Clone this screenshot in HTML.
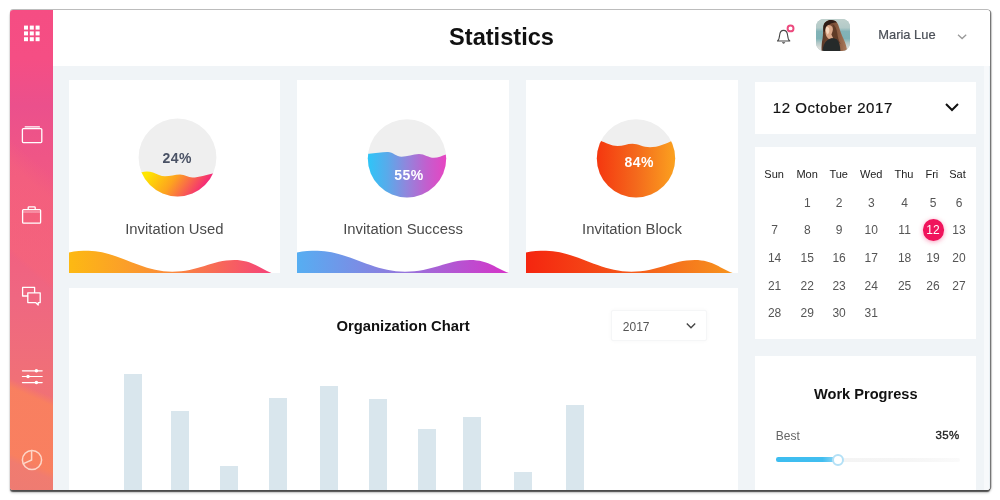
<!DOCTYPE html>
<html lang="en">
<head>
<meta charset="utf-8">
<title>Statistics</title>
<style>
*{box-sizing:border-box;margin:0;padding:0}
html,body{width:1000px;height:500px;overflow:hidden;background:#fff;font-family:"Liberation Sans",sans-serif;color:#222}
.abs{position:absolute}
#win{position:absolute;left:10px;top:10px;width:980px;height:480px;background:#fff;border-radius:3px;
  box-shadow:0 -1px 0 rgba(0,0,0,.26),1.3px 0 .6px rgba(0,0,0,.42),2px 1px 2px rgba(0,0,0,.1),0 1.6px 1px rgba(0,0,0,.6),0 3px 2.5px rgba(0,0,0,.2);overflow:hidden}
#side{position:absolute;left:0;top:0;width:43px;height:480px;
  background:linear-gradient(220.7deg,rgba(246,100,122,0) 0,rgba(246,100,122,0) 32%,rgba(246,100,122,.5) 37%,rgba(246,100,122,.55) 53%,rgba(246,100,122,0) 54.4%,rgba(246,100,122,0) 100%),linear-gradient(204deg,rgba(249,128,95,0) 0,rgba(249,128,95,0) 77.6%,rgba(249,128,95,.95) 79.4%,rgba(249,128,95,.95) 92.6%,rgba(240,124,112,.9) 94.2%,rgba(238,123,114,.9) 100%),linear-gradient(180deg,#f54d83 0%,#f54e84 10%,#eb508c 20%,#ee5488 27%,#f25c80 43%,#ef6781 60%,#f07077 77%,#f17274 85%,#f4776c 93%,#ee7b72 100%)}
#head{position:absolute;left:43px;top:0;width:937px;height:56px;background:#fff}
#content{position:absolute;left:43px;top:56px;width:937px;height:424px;background:linear-gradient(90deg,#f0f4f7 0,#f0f4f7 931px,#f7f9fb 931.5px,#f7f9fb 935.5px,#eaf0f4 936px)}
.card{position:absolute;background:#fff;overflow:hidden}
h1{position:absolute;left:1.5px;width:980px;text-align:center;top:11.8px;font-size:23.6px;line-height:30px;font-weight:700;color:#111;letter-spacing:0}
.lbl{position:absolute;left:0;width:100%;text-align:center;font-size:14.85px;color:#4a4a4a;top:139.9px;line-height:18px}
.pct{position:absolute;left:0;width:100%;text-align:center;font-weight:700;font-size:14px;line-height:16px;letter-spacing:.45px}
.cal{position:absolute;font-size:12px;color:#555;text-align:center;width:30px;line-height:14px}
.cal.h{color:#222;font-size:11px}
#calendar>div{margin-top:.8px}
#work>div{margin-top:.4px}
.bar{margin-left:.4px;position:absolute;width:18px;height:220px;background:#d9e6ed}
</style>
</head>
<body>
<div id="win">
  <div id="head"></div>
  <div id="content"></div>
  <div id="side">
    <svg class="abs" style="left:0;top:0" width="43" height="480" viewBox="10 10 43 480" fill="none" stroke="#fff" stroke-width="1.3" stroke-linejoin="round" stroke-linecap="round">
      <!-- grid -->
      <g fill="#fff" stroke="none">
        <rect x="24.0" y="25.6" width="4" height="4"/><rect x="29.8" y="25.6" width="4" height="4"/><rect x="35.6" y="25.6" width="4" height="4"/>
        <rect x="24.0" y="31.4" width="4" height="4"/><rect x="29.8" y="31.4" width="4" height="4"/><rect x="35.6" y="31.4" width="4" height="4"/>
        <rect x="24.0" y="37.2" width="4" height="4"/><rect x="29.8" y="37.2" width="4" height="4"/><rect x="35.6" y="37.2" width="4" height="4"/>
      </g>
      <!-- window/folder -->
      <rect x="22.4" y="128.6" width="19.4" height="14" rx="1"/>
      <path d="M25.2 126.9 H39.4"/>
      <!-- briefcase -->
      <rect x="22.6" y="209.6" width="18" height="13.6" rx="1"/>
      <path d="M28.2 209.4 V207.6 Q28.2 206.8 29 206.8 H34.4 Q35.2 206.8 35.2 207.6 V209.4"/>
      <path d="M23 212 H40.2" stroke-width=".8" opacity=".7"/>
      <!-- chat -->
      <path d="M27.6 296 H22.6 V287.4 H34.6 V292.4"/>
      <path d="M27.8 292.8 H40.2 V302.6 H38.2 V305 L35.6 302.6 H27.8Z"/>
      <!-- sliders -->
      <path d="M22.4 370.8 H42.2 M22.4 376.5 H42.2 M22.4 382.6 H42.2" stroke-width="1.15"/>
      <g fill="#fff" stroke="none"><circle cx="36.4" cy="370.8" r="1.75"/><circle cx="28" cy="376.5" r="1.75"/><circle cx="36.4" cy="382.6" r="1.75"/></g>
      <!-- pie -->
      <g stroke="#fdd6c8" stroke-width="1.5"><circle cx="32" cy="460" r="9.6"/><path d="M31.6 450.6 V460 L24 463.4"/></g>
    </svg>
  </div>
  <h1>Statistics</h1>
  <!-- header right -->
  <svg class="abs" style="left:764px;top:12px" width="24" height="26" viewBox="774 22 24 26" fill="none">
    <path d="M777.5 41 C779.2 39.7 779.4 37.5 779.6 35.2 C779.9 32.3 781.4 30.4 783.6 30.4 C785.8 30.4 787.3 32.3 787.6 35.2 C787.8 37.5 788 39.7 789.8 41 Z" stroke="#484848" stroke-width="1.1" stroke-linejoin="round"/>
    <path d="M781.8 42.3 Q783.6 45 785.4 42.3 Z" fill="#444"/>
    <circle cx="790.55" cy="28.4" r="2.95" stroke="#ec4a7e" stroke-width="1.95" fill="#fff"/>
  </svg>
  <div class="abs" id="avatar" style="left:806px;top:9.4px;width:33.6px;height:31.6px;border-radius:8px;overflow:hidden;background:#a9c3c3">
    <svg class="abs" style="left:0;top:0" width="33.6" height="31.6" viewBox="0 0 33.6 31.6">
      <defs>
        <linearGradient id="avbg" x1="0" y1="0" x2="0" y2="1"><stop offset="0" stop-color="#c3d2ce"/><stop offset=".3" stop-color="#b3cac8"/><stop offset=".4" stop-color="#82b3b7"/><stop offset=".6" stop-color="#7fb2b6"/><stop offset=".72" stop-color="#b4c9c8"/><stop offset=".85" stop-color="#d8dad7"/><stop offset="1" stop-color="#dedcd8"/></linearGradient>
        <linearGradient id="avhair" x1="0" y1="0" x2="1" y2="0"><stop offset="0" stop-color="#5a3726"/><stop offset=".5" stop-color="#7e5038"/><stop offset="1" stop-color="#ab7b5c"/></linearGradient>
        <filter id="avblur" x="-10%" y="-10%" width="120%" height="120%"><feGaussianBlur stdDeviation=".6"/></filter>
      </defs>
      <rect x="-2" y="-2" width="38" height="36" fill="url(#avbg)"/>
      <g filter="url(#avblur)">
        <path d="M7.6 7 C8 3.5 11.5 1 15.2 1.1 C18.8 1.2 21.3 3 22.3 6 C24 11 25.5 16 27.8 20.5 C29.5 24 30.6 28 31.2 32 L5.6 32 C5.4 27 5.8 23 6.6 19.5 C7.2 15 7 11 7.6 7Z" fill="url(#avhair)"/>
        <path d="M9.4 7 C11.5 5.2 15 5.6 16.4 8 C17.4 10.5 17.2 14 16.2 16.2 L18.4 19 L13 20 C11.5 19 10.2 17.5 9.8 15.5 C9.2 12.5 8.8 9.5 9.4 7Z" fill="#dba98a"/>
        <path d="M9.8 8.6 C10.8 7.6 12.6 7.8 13.2 9.6 C13.7 11.8 13 14.6 11.8 15.4 C10.4 14.8 9.4 11 9.8 8.6Z" fill="#f5d6bd"/>
        <path d="M7.4 7 C8 3.5 11.5 1 15.2 1.1 C17.8 1.2 19.8 2 21 3.6 C18 3.6 15.2 4.2 13.2 5.6 C11 6.4 9.6 8 9.2 10.5 C8.8 12 8.4 13 8 13.6 C7.3 11.5 7.1 9 7.4 7Z" fill="#2f1d17"/>
        <path d="M15.4 15.5 C17 12.5 17.6 8.5 16.4 5 C19.2 6.5 20.6 10 21.2 14 C21.8 18 22.6 21.5 24.6 25 L18 21Z" fill="#603a28"/>
        <path d="M6.6 32 C6.8 27.5 8.4 23.4 11.6 21 C14.6 18.8 18.6 18.6 21.2 20.8 C23.4 22.8 24 27 24.4 32Z" fill="#25292a"/>
      </g>
    </svg>
  </div>
  <div class="abs" style="left:868.3px;top:16.9px;font-size:12.9px;line-height:16px;color:#4a4f57;-webkit-text-stroke:.2px #4a4f57">Maria Lue</div>
  <svg class="abs" style="left:946px;top:23px" width="12" height="8" viewBox="0 0 12 8"><path d="M2 1.7 L6.1 5.5 L10.2 1.7" fill="none" stroke="#999" stroke-width="1.3"/></svg>

  <!-- cards (coordinates relative to #win : page - 10) -->
  <div class="card" id="c1" style="left:58.7px;top:70px;width:211.3px;height:193px">
    <svg class="abs" style="left:0;top:0" width="211" height="193" viewBox="0 0 211 193">
      <defs>
        <linearGradient id="g1" x1="0" y1="0" x2="1" y2="0"><stop offset="0" stop-color="#fdb913"/><stop offset=".5" stop-color="#fa8a3a"/><stop offset="1" stop-color="#f5437a"/></linearGradient>
        <linearGradient id="g1c" gradientUnits="userSpaceOnUse" x1="82" y1="88" x2="128" y2="120"><stop offset="0" stop-color="#ffe600"/><stop offset=".45" stop-color="#fda31f"/><stop offset="1" stop-color="#f4227d"/></linearGradient>
        <clipPath id="cp1"><circle cx="108.5" cy="77.5" r="38.9"/></clipPath>
      </defs>
      <circle cx="108.5" cy="77.5" r="38.9" fill="#efefef"/>
      <path clip-path="url(#cp1)" fill="url(#g1c)" d="M60 93 L72 92.5 C76 91 80 91 84 92.5 C88 94 92 96.3 96 96.3 C101 96.3 106 94.5 111 94.5 C116 94.5 119 97.5 123.5 97.5 C130 97.5 137 95 146 93 L150 92.5 L150 130 L60 130Z"/>
      <path fill="url(#g1)" transform="scale(.955 1)" d="M0 172.5 C7 171 13 170.75 20.5 170.75 C50 170.75 75 191.75 108 191.75 C135 191.75 150 180 173 180 C192 180 200 189 212 193 L0 193Z"/>
    </svg>
    <div class="pct" style="top:70px;left:2.9px;color:#4a5265">24%</div>
    <div class="lbl">Invitation Used</div>
  </div>

  <div class="card" id="c2" style="left:287px;top:70px;width:212px;height:193px">
    <svg class="abs" style="left:0;top:0" width="212" height="193" viewBox="0 0 212 193">
      <defs>
        <linearGradient id="g2" x1="0" y1="0" x2="1" y2="0"><stop offset="0" stop-color="#56aef2"/><stop offset=".5" stop-color="#9476dc"/><stop offset="1" stop-color="#d633c8"/></linearGradient>
        <linearGradient id="g2c" gradientUnits="userSpaceOnUse" x1="71" y1="0" x2="149" y2="0"><stop offset="0" stop-color="#2ec5f8"/><stop offset=".25" stop-color="#5aaaea"/><stop offset=".5" stop-color="#9285dc"/><stop offset=".75" stop-color="#c25fce"/><stop offset="1" stop-color="#e745c2"/></linearGradient>
        <clipPath id="cp2"><circle cx="110" cy="78.4" r="39.2"/></clipPath>
      </defs>
      <circle cx="110" cy="78.4" r="39.2" fill="#efefef"/>
      <path clip-path="url(#cp2)" fill="url(#g2c)" d="M60 74 L72 73.8 C78 73.6 86 71.9 91 72.1 C96 72.3 99.5 76.8 104.5 76.8 C110 76.8 116 74 122 74 C127.5 74 131.5 77.8 137 77.8 C141 77.8 145 76 149 74.6 L156 73 V130 H60Z"/>
      <path fill="url(#g2)" d="M0 172.5 C7 171 13 170.75 20.5 170.75 C50 170.75 75 191.75 108 191.75 C135 191.75 150 180 173 180 C192 180 200 189 212 193 L0 193Z"/>
    </svg>
    <div class="pct" style="top:86.8px;left:6px;color:#fff">55%</div>
    <div class="lbl">Invitation Success</div>
  </div>

  <div class="card" id="c3" style="left:516px;top:70px;width:212px;height:193px">
    <svg class="abs" style="left:0;top:0" width="212" height="193" viewBox="0 0 212 193">
      <defs>
        <linearGradient id="g3" x1="0" y1="0" x2="1" y2="0"><stop offset="0" stop-color="#f5250f"/><stop offset=".5" stop-color="#f4581a"/><stop offset="1" stop-color="#f7941e"/></linearGradient>
        <linearGradient id="g3c" gradientUnits="userSpaceOnUse" x1="71" y1="0" x2="149" y2="0"><stop offset="0" stop-color="#f5370f"/><stop offset=".5" stop-color="#f4691c"/><stop offset="1" stop-color="#fba11f"/></linearGradient>
        <clipPath id="cp3"><circle cx="110" cy="78.4" r="39.2"/></clipPath>
      </defs>
      <circle cx="110" cy="78.4" r="39.2" fill="#efefef"/>
      <g clip-path="url(#cp3)"><path fill="url(#g3c)" transform="translate(0 -.8)" d="M60 56 L74 61.25 C80 63.5 85 66.75 91.5 66.75 C97 66.75 101 64.5 106.5 64.5 C112 64.5 117 68 124 68 C132 68 140 64.5 146.5 61.25 L156 56 V132 H60Z"/></g>
      <path fill="url(#g3)" transform="scale(.975 1)" d="M0 172.5 C7 171 13 170.75 20.5 170.75 C50 170.75 75 191.75 108 191.75 C135 191.75 150 180 173 180 C192 180 200 189 212 193 L0 193Z"/>
    </svg>
    <div class="pct" style="top:73.8px;left:7.2px;color:#fff">84%</div>
    <div class="lbl">Invitation Block</div>
  </div>

  <!-- chart -->
  <div class="card" id="chart" style="left:58.6px;top:278px;width:669.4px;height:202px">
    <div class="abs" style="left:0;width:669px;top:29.6px;text-align:center;font-weight:700;font-size:14.8px;line-height:16px;color:#111">Organization Chart</div>
    <div class="abs" style="left:542.6px;top:22.4px;width:95.6px;height:30.8px;border:1px solid #f5f6f7;border-radius:2px;background:#fff;box-shadow:0 0 4px rgba(0,0,0,.035)"></div>
    <div class="abs" style="left:554.2px;top:32.2px;font-size:12px;line-height:14px;color:#555">2017</div>
    <svg class="abs" style="left:616px;top:34px" width="12" height="8" viewBox="0 0 12 8"><path d="M1.8 1.6 L6 5.8 L10.2 1.6" fill="none" stroke="#444" stroke-width="1.35"/></svg>
    <div class="bar" style="left:54.75px;top:86.25px"></div>
    <div class="bar" style="left:102.25px;top:123.25px"></div>
    <div class="bar" style="left:151.50px;top:178.25px"></div>
    <div class="bar" style="left:200.50px;top:110.25px"></div>
    <div class="bar" style="left:251.50px;top:98.00px"></div>
    <div class="bar" style="left:300.25px;top:110.50px"></div>
    <div class="bar" style="left:349.00px;top:141.25px"></div>
    <div class="bar" style="left:394.25px;top:129.25px"></div>
    <div class="bar" style="left:445.25px;top:184.25px"></div>
    <div class="bar" style="left:497.00px;top:117.00px"></div>
  </div>

  <!-- right column -->
  <div class="card" id="date" style="left:744.8px;top:71.6px;width:221.7px;height:52px">
    <div class="abs" style="left:18px;top:17.4px;font-size:15px;line-height:18px;color:#111;letter-spacing:.55px;-webkit-text-stroke:.2px #111">12 October 2017</div>
    <svg class="abs" style="left:189px;top:20.4px" width="16" height="10" viewBox="0 0 16 10"><path d="M2 2 L8 8 L14 2" fill="none" stroke="#111" stroke-width="2"/></svg>
  </div>
  <div class="card" id="calendar" style="left:744.8px;top:136.5px;width:221.7px;height:192.5px">
<div class="cal h" style="left:4.30px;top:20.20px">Sun</div><div class="cal h" style="left:37.30px;top:20.20px">Mon</div><div class="cal h" style="left:68.90px;top:20.20px">Tue</div><div class="cal h" style="left:101.40px;top:20.20px">Wed</div><div class="cal h" style="left:134.20px;top:20.20px">Thu</div><div class="cal h" style="left:162.10px;top:20.20px">Fri</div><div class="cal h" style="left:187.70px;top:20.20px">Sat</div>
<div class="abs" style="left:167.80px;top:71.90px;width:21.6px;height:21.6px;border-radius:50%;background:#f0145c;box-shadow:0 1px 5px rgba(240,20,92,.42)"></div><div class="cal" style="left:37.50px;top:48.50px">1</div><div class="cal" style="left:69.30px;top:48.50px">2</div><div class="cal" style="left:101.50px;top:48.50px">3</div><div class="cal" style="left:134.80px;top:48.50px">4</div><div class="cal" style="left:163.20px;top:48.50px">5</div><div class="cal" style="left:189.20px;top:48.50px">6</div>
<div class="cal" style="left:4.80px;top:76.20px">7</div><div class="cal" style="left:37.50px;top:76.20px">8</div><div class="cal" style="left:69.30px;top:76.20px">9</div><div class="cal" style="left:101.50px;top:76.20px">10</div><div class="cal" style="left:134.80px;top:76.20px">11</div><div class="cal" style="left:163.20px;top:76.20px;color:#fff">12</div><div class="cal" style="left:189.20px;top:76.20px">13</div>
<div class="cal" style="left:4.80px;top:103.80px">14</div><div class="cal" style="left:37.50px;top:103.80px">15</div><div class="cal" style="left:69.30px;top:103.80px">16</div><div class="cal" style="left:101.50px;top:103.80px">17</div><div class="cal" style="left:134.80px;top:103.80px">18</div><div class="cal" style="left:163.20px;top:103.80px">19</div><div class="cal" style="left:189.20px;top:103.80px">20</div>
<div class="cal" style="left:4.80px;top:131.60px">21</div><div class="cal" style="left:37.50px;top:131.60px">22</div><div class="cal" style="left:69.30px;top:131.60px">23</div><div class="cal" style="left:101.50px;top:131.60px">24</div><div class="cal" style="left:134.80px;top:131.60px">25</div><div class="cal" style="left:163.20px;top:131.60px">26</div><div class="cal" style="left:189.20px;top:131.60px">27</div>
<div class="cal" style="left:4.80px;top:159.10px">28</div><div class="cal" style="left:37.50px;top:159.10px">29</div><div class="cal" style="left:69.30px;top:159.10px">30</div><div class="cal" style="left:101.50px;top:159.10px">31</div>
</div>
  <div class="card" id="work" style="left:744.8px;top:345.6px;width:221.7px;height:134.4px">
    <div class="abs" style="left:0;width:222px;top:30.4px;text-align:center;font-weight:700;font-size:14.6px;line-height:16px;color:#111">Work Progress</div>
    <div class="abs" style="left:21px;top:72.7px;font-size:12px;line-height:14px;color:#666">Best</div>
    <div class="abs" style="right:17px;top:72.3px;font-size:11.5px;line-height:14px;color:#222;-webkit-text-stroke:.35px #222;letter-spacing:.35px">35%</div>
    <div class="abs" style="left:21px;top:101.6px;width:184px;height:4px;border-radius:2px;background:linear-gradient(90deg,#f3f3f3,#f5f5f5 70%,#fafafa)"></div>
    <div class="abs" style="left:21px;top:101.4px;width:62px;height:4.4px;border-radius:2.2px;background:linear-gradient(90deg,#3dbdf0 0,#41bef0 75%,#9dd9f5 100%)"></div>
    <div class="abs" style="left:77px;top:97.6px;width:12px;height:12px;border-radius:50%;background:#fff;border:2.4px solid #b3e0f6"></div>
  </div>
</div>
</body>
</html>
